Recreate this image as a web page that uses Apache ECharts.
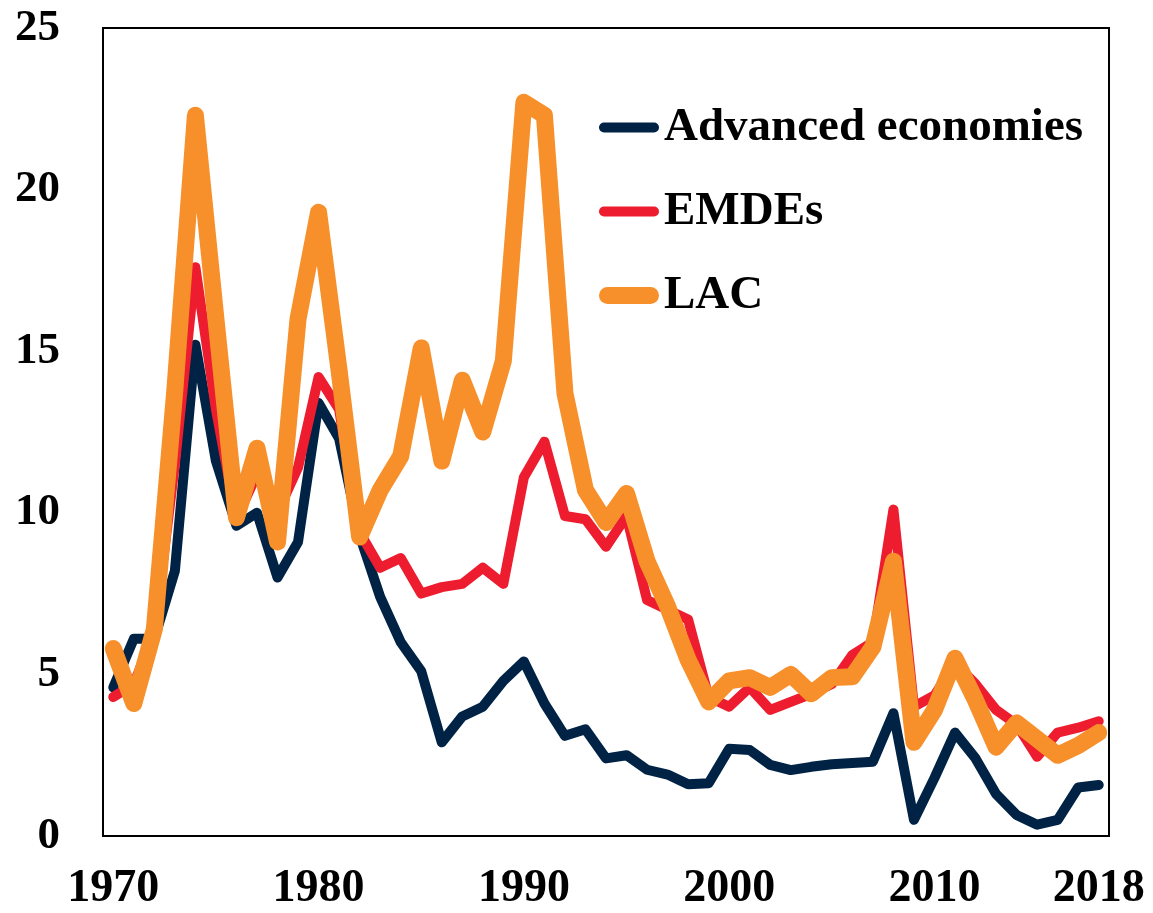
<!DOCTYPE html>
<html>
<head>
<meta charset="utf-8">
<script src="https://cdn.jsdelivr.net/npm/echarts@6/dist/echarts.min.js"></script>
<style>
  html, body { margin: 0; padding: 0; background: #fff; }
  #container { width: 1153px; height: 913px; }
</style>
</head>
<body>
<div id="container"></div>
<script>
var years = [];
for (var y = 1970; y <= 2018; y++) years.push(String(y));

var advanced = [4.6, 6.1, 6.1, 8.2, 15.2, 11.6, 9.6, 10.0, 8.0, 9.1,
    13.4, 12.3, 9.3, 7.4, 6.0, 5.1, 2.9, 3.7, 4.0, 4.8,
    5.4, 4.1, 3.1, 3.3, 2.4, 2.5, 2.05, 1.9, 1.6, 1.63,
    2.7, 2.66, 2.2, 2.04, 2.14, 2.22, 2.26, 2.3, 3.8, 0.5,
    1.8, 3.2, 2.4, 1.3, 0.65, 0.35, 0.5, 1.5, 1.58];

var emdes = [4.3, 4.7, 6.3, 11.5, 17.6, 13.2, 9.8, 11.2, 10.0, 11.4,
    14.2, 13.2, 9.4, 8.3, 8.6, 7.5, 7.7, 7.8, 8.3, 7.8,
    11.1, 12.2, 9.9, 9.8, 8.95, 9.9, 7.3, 7.0, 6.7, 4.3,
    4.0, 4.6, 3.9, 4.15, 4.4, 4.7, 5.6, 6.0, 10.1, 4.0,
    4.35, 5.35, 4.7, 3.9, 3.45, 2.45, 3.2, 3.35, 3.55];

var lac = [5.8, 4.1, 6.4, 13.8, 22.3, 16.0, 9.85, 12.0, 9.1, 16.0,
    19.3, 14.4, 9.25, 10.7, 11.75, 15.1, 11.6, 14.1, 12.5, 14.7,
    22.7, 22.3, 13.7, 10.7, 9.7, 10.6, 8.5, 7.1, 5.45, 4.15,
    4.8, 4.9, 4.6, 5.0, 4.4, 4.9, 4.93, 5.85, 8.5, 2.9,
    3.9, 5.5, 4.2, 2.75, 3.5, 3.0, 2.5, 2.8, 3.2];

var shownYears = ['1970', '1980', '1990', '2000', '2010', '2018'];

var font = '"Liberation Serif", "Times New Roman", serif';

// rounded bar icons for the legend (thin for 2 series, thick for LAC)
var thinIcon = 'path://M5,0 L55,0 A5,5 0 0 1 55,10 L5,10 A5,5 0 0 1 5,0 Z';
var thickIcon = 'path://M8.5,0 L51.5,0 A8.5,8.5 0 0 1 51.5,17 L8.5,17 A8.5,8.5 0 0 1 8.5,0 Z';

var myChart = echarts.init(document.getElementById('container'));

function lineSeries(name, data, color, width) {
    return {
        name: name,
        type: 'line',
        data: data,
        symbol: 'none',
        lineStyle: { color: color, width: width, cap: 'round', join: 'round' },
        itemStyle: { color: color },
        animation: false
    };
}

var option = {
    backgroundColor: '#fff',
    grid: {
        left: 103, top: 28, right: 44, bottom: 77,
        show: true, borderColor: '#000', borderWidth: 2
    },
    legend: {
        orient: 'vertical',
        left: 594,
        top: 99,
        itemWidth: 60,
        itemHeight: 17,
        itemGap: 37,
        textStyle: { fontFamily: font, fontWeight: 'bold', fontSize: 47, color: '#000' },
        data: [
            { name: 'Advanced economies', icon: thinIcon },
            { name: 'EMDEs', icon: thinIcon },
            { name: 'LAC', icon: thickIcon }
        ]
    },
    xAxis: {
        type: 'category',
        data: years,
        boundaryGap: true,
        axisLine: { show: true, lineStyle: { color: '#000', width: 2 } },
        axisTick: { show: false },
        axisLabel: {
            interval: function (idx, val) { return shownYears.indexOf(val) >= 0; },
            margin: 30,
            fontFamily: font, fontWeight: 'bold', fontSize: 46, color: '#000'
        },
        splitLine: { show: false }
    },
    yAxis: {
        type: 'value',
        min: 0, max: 25, interval: 5,
        axisLine: { show: true, lineStyle: { color: '#000', width: 2 } },
        axisTick: { show: false },
        axisLabel: { margin: 43, fontFamily: font, fontWeight: 'bold', fontSize: 45, color: '#000' },
        splitLine: { show: false }
    },
    series: [
        lineSeries('Advanced economies', advanced, '#002345', 10),
        lineSeries('EMDEs', emdes, '#ED1C2E', 10),
        lineSeries('LAC', lac, '#F7902B', 17)
    ]
};

myChart.setOption(option);
</script>
</body>
</html>
